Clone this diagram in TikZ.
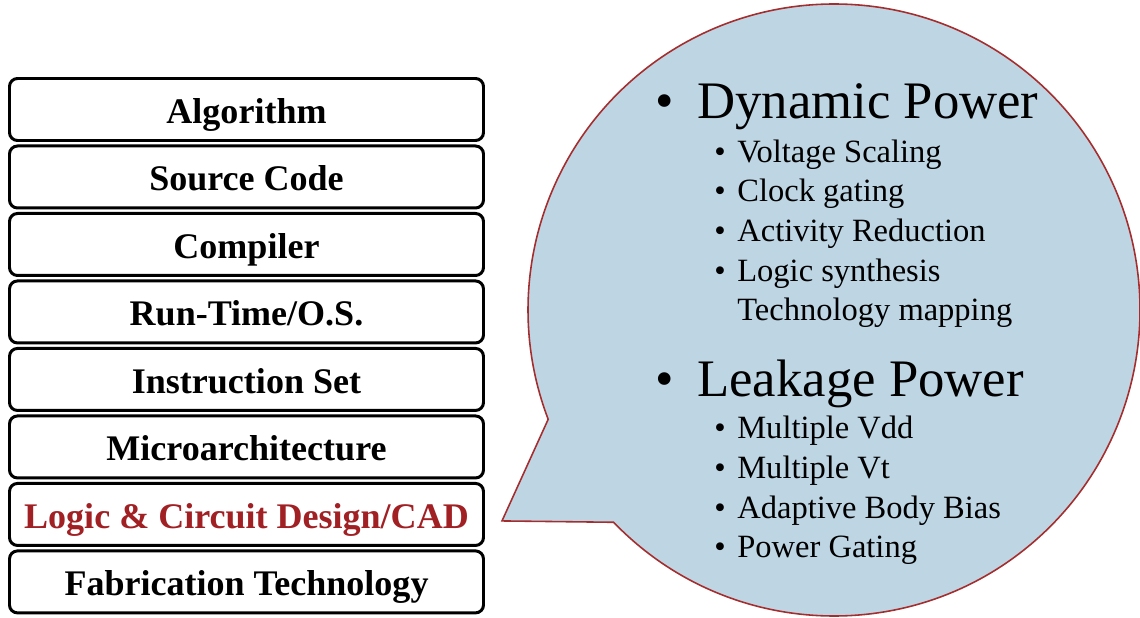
\documentclass[tikz,border=0pt]{standalone}
\usepackage{fontspec}
\setmainfont{Liberation Serif}
\usepackage{tikz}
\usetikzlibrary{positioning,shapes.callouts}

\definecolor{cadred}{RGB}{160,32,36}
\definecolor{bubblefill}{RGB}{190,214,228}
\definecolor{bubbleline}{RGB}{165,45,45}

\begin{document}
\begin{tikzpicture}[
        layer/.style={draw=black, line width=1.7pt, rounded corners=0.16cm, minimum width=9.48cm, minimum height=1.24cm, inner sep=0pt, text height=15.9pt, text depth=0pt, font=\fontsize{20.5}{24}\selectfont\bfseries},
        bubble/.style={ellipse callout, draw=bubbleline, line width=0.9pt, fill=bubblefill, minimum width=12.24cm, minimum height=12.24cm, inner sep=0pt, callout pointer arc=23},
        head/.style={anchor=base west, inner sep=0pt, font=\fontsize{30}{36}\selectfont},
        item/.style={anchor=base west, inner sep=0pt, font=\fontsize{18.5}{22}\selectfont},
        node distance=0.05cm
        ]
        \useasboundingbox (0,0) rectangle (22.8,12.34);
        % the abstraction stack
        \node[layer]                    (alg)   at (4.93,10.15)      {Algorithm};
        \node[layer]                    (src)   [below  =of alg]     {Source Code};
        \node[layer]                    (comp)  [below  =of src]     {Compiler};
        \node[layer]                    (os)    [below  =of comp]    {Run-Time/O.S.};
        \node[layer]                    (isa)   [below  =of os]      {Instruction Set};
        \node[layer]                    (uarch) [below  =of isa]     {Microarchitecture};
        \node[layer, text=cadred]       (logic) [below  =of uarch]   {Logic \& Circuit Design/CAD};
        \node[layer]                    (fab)   [below  =of logic]   {Fabrication Technology};
        % speech bubble
        \coordinate (tip) at ([xshift=0.34cm, yshift=-0.13cm]logic.east);
        \node[bubble, callout absolute pointer=(tip)] (bub) at ([xshift=11.75cm, yshift=-4.01cm]alg.center) {};
        \node[head]     (dyn)   at (13.10,9.98)     {\makebox[0.84cm][l]{\textbullet}Dynamic Power};
        \node[item]     (volt)  at (14.28,9.10)     {\makebox[0.46cm][l]{\textbullet}Voltage Scaling};
        \node[item]     (clk)   at (14.28,8.32)     {\makebox[0.46cm][l]{\textbullet}Clock gating};
        \node[item]     (act)   at (14.28,7.52)     {\makebox[0.46cm][l]{\textbullet}Activity Reduction};
        \node[item]     (syn)   at (14.28,6.72)     {\makebox[0.46cm][l]{\textbullet}Logic synthesis};
        \node[item]     (map)   at (14.74,5.94)     {Technology mapping};
        \node[head]     (leak)  at (13.10,4.42)     {\makebox[0.84cm][l]{\textbullet}Leakage Power};
        \node[item]     (vdd)   at (14.28,3.58)     {\makebox[0.46cm][l]{\textbullet}Multiple Vdd};
        \node[item]     (vt)    at (14.28,2.78)     {\makebox[0.46cm][l]{\textbullet}Multiple Vt};
        \node[item]     (abb)   at (14.28,1.98)     {\makebox[0.46cm][l]{\textbullet}Adaptive Body Bias};
        \node[item]     (pg)    at (14.28,1.20)     {\makebox[0.46cm][l]{\textbullet}Power Gating};
    \end{tikzpicture}
\end{document}
